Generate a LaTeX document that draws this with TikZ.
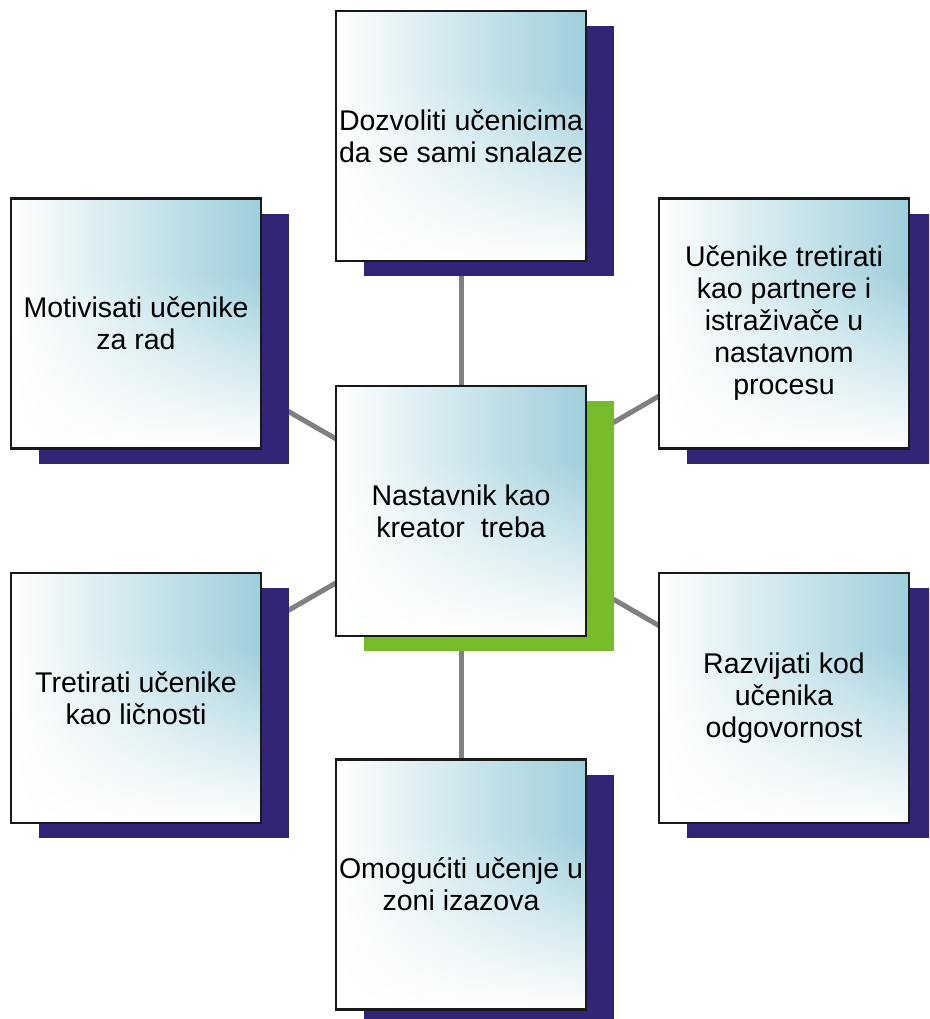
\documentclass[tikz,border=0pt]{standalone}
\usepackage{fontspec}
\setmainfont{Liberation Sans}
\usetikzlibrary{shadows,backgrounds}
\definecolor{navy}{RGB}{50,36,118}
\definecolor{leafgreen}{RGB}{118,188,42}
\definecolor{linkgray}{RGB}{128,128,128}
\pgfdeclarefunctionalshading{boxshade}{\pgfpoint{-50bp}{-50bp}}{\pgfpoint{50bp}{50bp}}{}{
  25 add 35 div dup 0 lt {pop 0} if dup 1 gt {pop 1} if
  exch 25 add 50 div dup 0 lt {pop 0} if dup 1 gt {pop 1} if
  mul
  dup 0.38 mul 1 exch sub
  exch dup 0.19 mul 1 exch sub
  exch 0.14 mul 1 exch sub
}
\begin{document}
\begin{tikzpicture}[x=1pt,y=-1pt,
  box/.style={draw=black!90, line width=2.5pt, shade, shading=boxshade,
    minimum width=250pt, minimum height=250pt, inner sep=0pt, align=center,
    font=\fontsize{28.5}{32}\selectfont, text=black},
  navyshadow/.style={general shadow={shadow xshift=28pt, shadow yshift=-15pt, fill=navy}},
  greenshadow/.style={general shadow={shadow xshift=28pt, shadow yshift=-15pt, fill=leafgreen}},
  link/.style={draw=linkgray, line width=5pt}]
\useasboundingbox (0,0) rectangle (929,1019);
\clip (0,0) rectangle (929,1019);
\node[box, navyshadow] (T) at (461,136) {Dozvoliti učenicima\\da se sami snalaze};
\node[box, navyshadow] (LT) at (136,323.5) {Motivisati učenike\\za rad};
\node[box, navyshadow] (RT) at (784,323.5) {Učenike tretirati\\kao partnere i\\istraživače u\\nastavnom\\procesu};
\node[box, greenshadow] (C) at (461,511) {Nastavnik kao\\kreator\ \ treba};
\node[box, navyshadow] (LB) at (136,698) {Tretirati učenike\\kao ličnosti};
\node[box, navyshadow] (RB) at (784,698) {Razvijati kod\\učenika\\odgovornost};
\node[box, navyshadow] (B) at (461,884.5) {Omogućiti učenje u\\zoni izazova};
\begin{scope}[on background layer]
\draw[link] (C.center) -- (T.center);
\draw[link] (C.center) -- (LT.center);
\draw[link] (C.center) -- (RT.center);
\draw[link] (C.center) -- (LB.center);
\draw[link] (C.center) -- (RB.center);
\draw[link] (C.center) -- (B.center);
\end{scope}
\end{tikzpicture}
\end{document}
